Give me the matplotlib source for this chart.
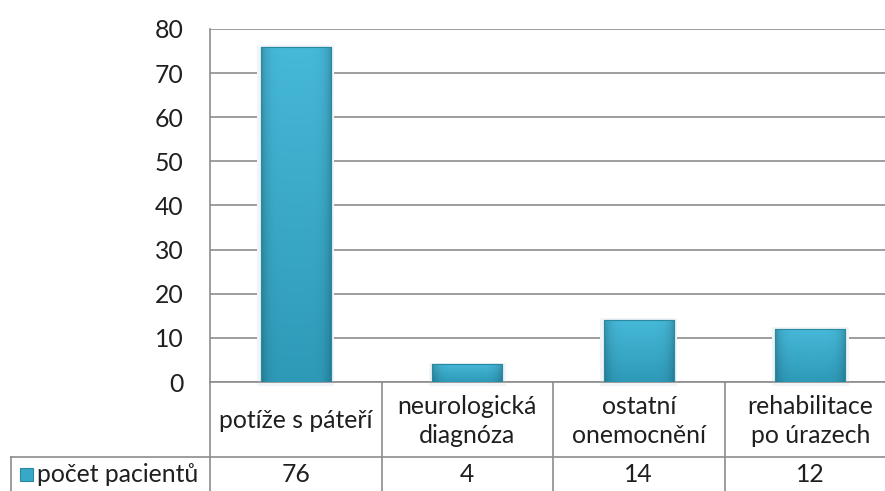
import numpy as np
import matplotlib
matplotlib.use("Agg")
import matplotlib.pyplot as plt
from matplotlib import transforms
from matplotlib.lines import Line2D
from matplotlib.patches import Rectangle

# data
categories = ["potíže s páteří", "neurologická\ndiagnóza", "ostatní\nonemocnění", "rehabilitace\npo úrazech"]
values = [76, 4, 14, 12]
series_name = "počet pacientů"
yticks = [0, 10, 20, 30, 40, 50, 60, 70, 80]

plt.rcParams['font.family'] = ['Lato', 'DejaVu Sans']
W, H = 885, 491
grid_col = '#8c8c8c'
txt_col = '#1f1f1f'
fs = 17.8

fig = plt.figure(figsize=(W / 100, H / 100), dpi=100)
ax = fig.add_axes([210 / W, (H - 382) / H, 686 / W, 353 / H])

bars = ax.bar(range(len(values)), values, width=0.41, color='#38a8c8',
              edgecolor='#2a88a3', linewidth=0.8, zorder=3)

# gradient fill on each bar (excel-like bevel)
nx, ny = 64, 64
hx = np.linspace(-1, 1, nx)
prof = 1 - 0.22 * np.abs(hx) ** 6
vy = np.linspace(0, 1, ny)[:, None]  # 0 = bottom, 1 = top
top = np.array([0x46, 0xb8, 0xd8]) / 255
bot = np.array([0x2e, 0x9a, 0xb8]) / 255
base = bot + (top - bot) * vy[..., None]
img = np.clip(base * prof[None, :, None], 0, 1)
for b in bars:
    x0, w, h = b.get_x(), b.get_width(), b.get_height()
    # faint glow behind the bar
    ax.add_patch(Rectangle((x0 - 0.02, -1.0), w + 0.04, h + 1.4, color='#f1f5f7',
                           zorder=2, clip_on=False, lw=0))
    im = ax.imshow(img, extent=(x0, x0 + w, 0, h), origin='lower', aspect='auto', zorder=4)
    im.set_clip_path(b)
    ax.add_patch(Rectangle((x0, 0), w, h, fill=False, edgecolor='#2a88a3', lw=0.8, zorder=5))

ax.set_xlim(-0.5, len(values) - 0.5)
ax.set_ylim(0, 80)
ax.set_yticks(yticks)
ax.set_xticks([])
ax.tick_params(axis='y', length=0, pad=19, labelsize=fs, labelcolor=txt_col)
ax.yaxis.grid(True, color=grid_col, linewidth=1.2, zorder=1)
ax.set_axisbelow(True)
for s in ['top', 'right']:
    ax.spines[s].set_visible(False)
ax.spines['left'].set_color(grid_col)
ax.spines['bottom'].set_color(grid_col)
ax.spines['left'].set_linewidth(1.2)
ax.spines['bottom'].set_linewidth(1.2)

# data table under the chart
def fy(y_px):
    return (H - y_px) / H

bt = transforms.blended_transform_factory(ax.transData, fig.transFigure)
for i in range(len(values) + 1):
    fig.add_artist(Line2D([i - 0.5, i - 0.5], [fy(382), fy(495)], transform=bt,
                          color=grid_col, lw=1.2))
fig.add_artist(Line2D([11 / W, 1.02], [fy(457), fy(457)], transform=fig.transFigure,
                      color=grid_col, lw=1.2))
fig.add_artist(Line2D([11 / W, 11 / W], [fy(457), fy(495)], transform=fig.transFigure,
                      color=grid_col, lw=1.2))

for i, (c, v) in enumerate(zip(categories, values)):
    fig.text(i, fy(421), c, transform=bt, ha='center', va='center', fontsize=fs,
             color=txt_col, linespacing=1.35)
    fig.text(i, fy(474), str(v), transform=bt, ha='center', va='center', fontsize=fs,
             color=txt_col)

fig.add_artist(Rectangle((20 / W, fy(481)), 13 / W, 13 / H, transform=fig.transFigure,
                         facecolor='#38a8c8', edgecolor='#2a88a3', lw=0.8))
fig.text(37 / W, fy(474), series_name, ha='left', va='center', fontsize=fs, color=txt_col)

fig.savefig('out.png', dpi=100)
